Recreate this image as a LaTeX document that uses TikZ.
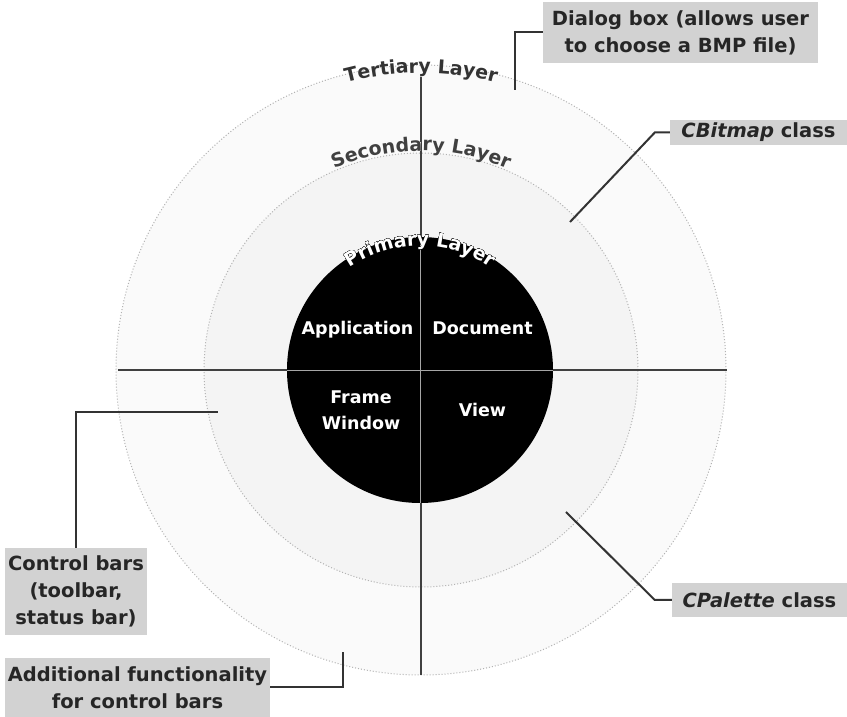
\documentclass[tikz,border=0pt]{standalone}
\usepackage{fontspec}
\setmainfont{DejaVu Sans}
\usetikzlibrary{calc,decorations.text}

\newcommand\quadfont{\fontsize{17.5}{26}\selectfont\bfseries}
\newcommand\calloutfont{\fontsize{19.5}{27}\selectfont\bfseries}
\newcommand\arcfont{\fontsize{19}{19}\selectfont\bfseries}

% curved layer title: centre, radius, text, text colour, halo colour
\newcommand\layertext[5]{%
  \foreach \a in {0,30,...,330}{%
    \path[shift={(\a:1.5pt)}, decorate,
      decoration={text along path, text={|\arcfont|#3}, text align=center, text color=#5}]
      ($(#1)+(155:#2)$) arc[start angle=155, end angle=25, radius=#2];
  }
  \path[decorate,
    decoration={text along path, text={|\arcfont|#3}, text align=center, text color=#4}]
    ($(#1)+(155:#2)$) arc[start angle=155, end angle=25, radius=#2];
}

\begin{document}
\begin{tikzpicture}[x=1pt,y=1pt,
  axisline/.style={draw=black!75, line width=2.4pt},
  innerline/.style={draw=gray!70, line width=0.8pt},
  callout/.style={draw=black!80, line width=2pt},
  labelbox/.style={fill=gray!35, text=black!85, inner sep=0pt, align=center, font=\calloutfont},
  quadlabel/.style={text=white, font=\quadfont, align=center, inner sep=0pt},
  layerdisk/.style={circle, inner sep=0pt, draw=gray!60, dotted, line width=1pt}]

\useasboundingbox (-421,-347) rectangle (426,370);
\fill[white] (-421,-347) rectangle (426,370);

\coordinate (o) at (0,0);

% layer discs
\node[layerdisk, minimum size=610pt, fill=gray!4] (tertiary) at (o) {};
\node[layerdisk, minimum size=434pt, fill=gray!9] (secondary) at (o) {};

% axes
\coordinate (axW) at (-303,0);
\coordinate (axE) at (306,0);
\coordinate (axN) at (0,295);
\coordinate (axS) at (0,-305);
\draw[axisline] (axW) -- (axE);
\draw[axisline] (axN) -- (axS);

% primary layer core
\node[circle, minimum size=266pt, inner sep=0pt, fill=black] (core) at (-1,0) {};
\draw[innerline] (core.west) -- (core.east);
\draw[innerline] (core.north) -- (core.south);

\node[quadlabel, anchor=base] (app) at (-63.5,35) {Application};
\node[quadlabel, anchor=base] (doc) at (61.5,35) {Document};
\node[quadlabel] (frame) at (-60,-40) {Frame\\Window};
\node[quadlabel, anchor=base] (view) at (61.5,-47) {View};

% layer titles
\layertext{o}{297}{Tertiary Layer}{black!80}{white}
\layertext{o}{219}{Secondary Layer}{black!75}{white}
\layertext{core}{124}{Primary Layer}{white}{black}

% callouts
\node[labelbox, minimum width=275pt, minimum height=61pt] (dialog) at (259.5,337.5)
  {Dialog box (allows user\\to choose a BMP file)};
\node[labelbox, minimum width=177pt, minimum height=25pt] (bitmap) at (337.5,237.5)
  {{\itshape CBitmap} class};
\node[labelbox, minimum width=175pt, minimum height=34pt] (palette) at (338.5,-230)
  {{\itshape CPalette} class};
\node[labelbox, minimum width=142pt, minimum height=87pt] (controls) at (-345,-221.5)
  {Control bars\\(toolbar,\\status bar)};
\node[labelbox, minimum width=265pt, minimum height=59pt] (extra) at (-283.5,-317.5)
  {Additional functionality\\for control bars};

\coordinate (dialogEnd) at (94,280);
\coordinate (bitmapEnd) at (149,148);
\coordinate (paletteEnd) at (145,-142);
\coordinate (controlsEnd) at (-203,-42);
\coordinate (extraEnd) at (-78,-282);

\draw[callout] (dialog.west) -| (dialogEnd);
\draw[callout] (bitmap.west) -- ++(-15,0) -- (bitmapEnd);
\draw[callout] (palette.west) -- ++(-17,0) -- (paletteEnd);
\draw[callout] (controls.north) |- (controlsEnd);
\draw[callout] (extra.east) -| (extraEnd);
\end{tikzpicture}
\end{document}
